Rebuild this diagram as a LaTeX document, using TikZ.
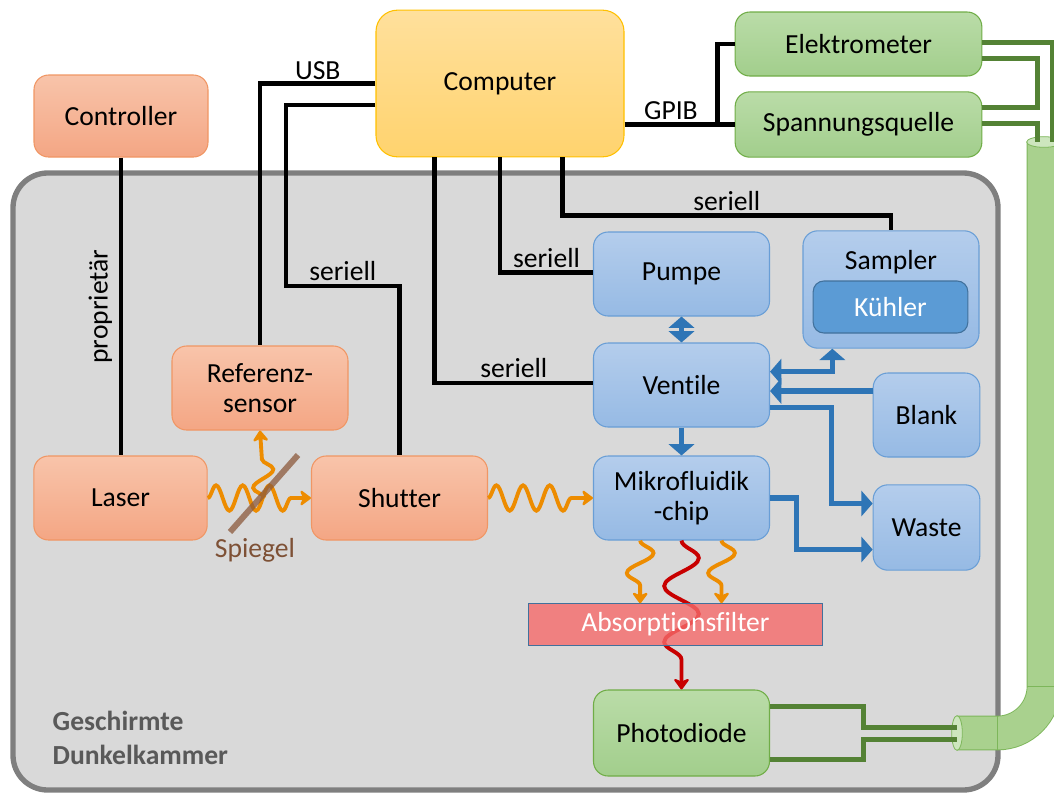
\documentclass[tikz,border=0pt]{standalone}
\usepackage{fontspec}
\setmainfont{Carlito}[Ligatures=NoCommon]
\usetikzlibrary{arrows.meta,decorations.pathmorphing,calc}

\definecolor{salmontop}{RGB}{248,196,170}
\definecolor{salmonbot}{RGB}{244,166,132}
\definecolor{salmonedge}{RGB}{240,150,100}
\definecolor{bluetop}{RGB}{180,205,236}
\definecolor{bluebot}{RGB}{150,186,228}
\definecolor{blueedge}{RGB}{105,158,214}
\definecolor{greentop}{RGB}{186,220,168}
\definecolor{greenbot}{RGB}{162,206,140}
\definecolor{greenedge}{RGB}{112,173,71}
\definecolor{comptop}{RGB}{255,224,156}
\definecolor{compbot}{RGB}{255,211,110}
\definecolor{compedge}{RGB}{255,192,0}
\definecolor{kuehlfill}{RGB}{91,155,213}
\definecolor{kuehledge}{RGB}{65,113,156}
\definecolor{filterfill}{RGB}{246,106,106}
\definecolor{filteredge}{RGB}{65,113,156}
\definecolor{flowblue}{RGB}{46,117,182}
\definecolor{cablegreen}{RGB}{84,130,53}
\definecolor{lightorange}{RGB}{237,140,0}
\definecolor{deepred}{RGB}{200,0,0}
\definecolor{chamberfill}{RGB}{217,217,217}
\definecolor{chamberedge}{RGB}{127,127,127}
\definecolor{labelgray}{RGB}{89,89,89}
\definecolor{mirrorbrown}{RGB}{140,90,60}
\definecolor{tubefill}{RGB}{169,209,142}
\definecolor{tubeedge}{RGB}{125,182,90}
\definecolor{tubeinner}{RGB}{205,230,190}

\tikzset{flowtip/.tip={Triangle[width=19pt,length=8.5pt]}}

\begin{document}
\begin{tikzpicture}[
        x=0.75pt, y=-0.75pt,
        font=\fontsize{20.7}{23}\selectfont,
        box/.style={draw, rounded corners=11pt, align=center, line width=0.8pt, minimum width=132pt, minimum height=63pt, inner sep=2pt},
        laserbox/.style={box, draw=salmonedge, top color=salmontop, bottom color=salmonbot},
        fluidbox/.style={box, draw=blueedge, top color=bluetop, bottom color=bluebot},
        elecbox/.style={box, draw=greenedge, top color=greentop, bottom color=greenbot},
        cable/.style={line width=3.5pt},
        gcable/.style={line width=3.75pt, draw=cablegreen},
        flow/.style={line width=3.8pt, draw=flowblue, -flowtip},
        wave/.style={line width=2.9pt, draw=lightorange, decorate,
            decoration={snake, segment length=20pt, amplitude=9.5pt, post length=9pt},
            -{Stealth[length=9.5pt, width=14pt, inset=3pt, round]}}
    ]
        \clip (0,0) rectangle (1054,794);
        \fill[chamberfill, draw=chamberedge, line width=4pt, rounded corners=26pt] (13,173) rectangle (998,790);

        \draw[tubeedge, line width=26pt, rounded corners=35pt] (1044,142) |- (957,733);
        \draw[tubefill, line width=24.6pt, rounded corners=35pt] (1044,142) |- (957,733);
        \draw[tubeedge, line width=0.6pt] (1027,686) -- (1061,686) (997,716) -- (997,750);
        \draw[tubeedge, fill=tubeinner, line width=0.6pt] (1044,142) ellipse [x radius=13pt, y radius=4pt];
        \draw[tubeedge, fill=tubeinner, line width=0.6pt] (957,733) ellipse [x radius=4pt, y radius=13pt];
        \coordinate (tubetop) at (1044,142);
        \coordinate (tubeend) at (957,733);

        \node[box, draw=compedge, top color=comptop, bottom color=compbot, minimum width=186pt, minimum height=110pt, rounded corners=16pt] (comp) at (500,83.5) {Computer};
        \node[laserbox, minimum width=130.5pt, minimum height=61.5pt] (ctrl) at (121,116) {Controller};
        \node[elecbox, minimum width=185pt, minimum height=48pt] (elek) at (858.5,44) {Elektrometer};
        \node[elecbox, minimum width=185pt, minimum height=49pt] (spann) at (858.5,124.5) {Spannungsquelle};
        \node[laserbox] (ref) at (260,388) {Referenz-\\sensor};
        \node[laserbox, minimum width=130pt] (laser) at (120.5,498) {Laser};
        \node[laserbox] (shutter) at (399.5,498) {Shutter};
        \node[fluidbox] (pump) at (681.5,274) {Pumpe};
        \node[fluidbox, minimum height=88pt] (samp) at (891,289.5) {};
        \node (samplbl) at (891,262) {Sampler};
        \node[box, draw=kuehledge, fill=kuehlfill, text=white, minimum width=116pt, minimum height=39pt, rounded corners=8pt] (kuehl) at (890.5,307) {Kühler};
        \node[fluidbox] (vent) at (681.5,385) {Ventile};
        \node[fluidbox, minimum width=80pt] (blank) at (926.5,415) {Blank};
        \node[fluidbox] (chip) at (681.5,498) {Mikrofluidik\\-chip};
        \node[fluidbox, minimum width=80pt, minimum height=64pt] (waste) at (926.5,527.5) {Waste};
        \node[elecbox, minimum height=64.5pt] (diode) at (681.5,733) {Photodiode};

        \draw[wave, draw=deepred, decoration={segment length=42pt, amplitude=13pt}] (chip.south) -- (diode.north);
        \node[draw=filteredge, fill=filterfill, fill opacity=0.8, text opacity=1, text=white, minimum width=220pt, minimum height=31pt, line width=0.8pt] (filter) at (675.5,624.5) {Absorptionsfilter};
        \draw[wave, decoration={segment length=30pt, amplitude=10pt}] ([xshift=-31pt]chip.south) -- ([xshift=-31pt]chip.south |- filter.north);
        \draw[wave, decoration={segment length=30pt, amplitude=10pt}] ([xshift=30pt]chip.south) -- ([xshift=30pt]chip.south |- filter.north);

        \draw[cable] (ctrl.south) -- (ctrl.south |- laser.north)
            node[midway, rotate=90, anchor=south, inner sep=5pt] {proprietär};
        \draw[cable] (comp.west) -| (ref.north) node[pos=0.25, above, inner sep=1pt] {USB};
        \draw[cable] ([yshift=-16pt]comp.west) -| (286,286) -| (shutter.north) node[pos=0.25, above, inner sep=2pt] {seriell};
        \draw[cable] (comp.south) |- ([yshift=1pt]pump.west) node[pos=0.75, above, inner sep=2pt] {seriell};
        \draw[cable] ([xshift=-49pt]comp.south) |- ([yshift=1.5pt]vent.west) node[pos=0.75, above, inner sep=2pt] {seriell};
        \draw[cable] ([xshift=47pt]comp.south) |- ([yshift=11pt]samp.north) node[pos=0.75, above, inner sep=2pt] {seriell} -- (samp.north);
        \coordinate (gpibjn) at ([xshift=-13pt]spann.west);
        \draw[cable] (comp.east |- spann.west) -- (gpibjn) node[midway, above, inner sep=2pt] {GPIB} -- (spann.west);
        \draw[cable] (gpibjn) |- (elek.west);

        \draw[gcable] ([yshift=1pt]elek.east) -| ([xshift=6pt]tubetop);
        \draw[gcable] ([yshift=-11pt]elek.east) -- ++(55,0) |- ([yshift=13pt]spann.east);
        \draw[gcable] ([yshift=1pt]spann.east) -| ([xshift=-5pt]tubetop);
        \draw[gcable] ([yshift=20pt]diode.east) -- ++(93,0) |- ([yshift=4.5pt]tubeend);
        \draw[gcable] ([yshift=-20pt]diode.east) -- ++(93,0) |- ([yshift=-4.5pt]tubeend);

        \draw[flow, flowtip-flowtip] (pump.south) -- (vent.north);
        \draw[flow] (vent.south) -- (chip.north);
        \draw[flow, flowtip-flowtip] ([yshift=10pt]vent.east) -| ([xshift=-44pt]samp.south);
        \draw[flow] ([yshift=18pt]blank.west) -- ([yshift=18pt]blank.west -| vent.east);
        \draw[flow] ([yshift=-17pt]vent.east) -- ++(61,0) |- ([yshift=18pt]waste.west);
        \draw[flow] (chip.east) -- ++(26,0) |- ([yshift=-16.5pt]waste.west);

        \coordinate (split) at ($(laser.east)!0.55!(shutter.west)$);
        \draw[wave] (laser.east) -- (shutter.west);
        \draw[wave, decoration={segment length=26pt, amplitude=8pt}] (split) -- (ref.south);
        \draw[wave] (shutter.east) -- (chip.west);
        \draw[mirrorbrown, opacity=0.75, line width=4.5pt] (230,532) -- (298,455);
        \node[text=mirrorbrown!90!black] (spiegel) at (255,550) {Spiegel};

        \node[anchor=west, align=left, font=\fontsize{20.7}{25}\selectfont\bfseries, text=labelgray] (darkroom) at (48,738) {Geschirmte\\Dunkelkammer};
    \end{tikzpicture}
\end{document}
